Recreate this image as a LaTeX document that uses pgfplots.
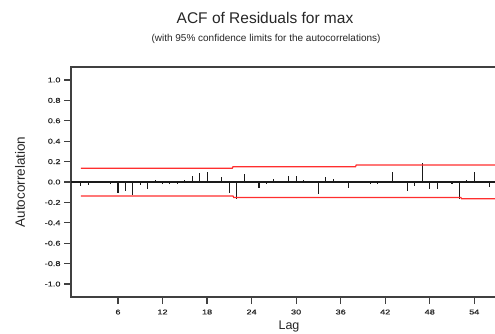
\documentclass[border=0pt]{standalone}
\usepackage{pgfplots}
\pgfplotsset{compat=1.18}
\usepackage{fontspec}
\setmainfont{Liberation Sans}
\newfontfamily\tickfont[FakeStretch=1.3,FakeBold=0.6]{Liberation Sans}
\definecolor{axisgray}{HTML}{404040}
\definecolor{barblack}{HTML}{1A1A1A}
\definecolor{limred}{HTML}{FF2E2E}

\pgfplotstableread{
lag acf
1 -0.035
2 -0.03
3 0.004
4 -0.004
5 -0.02
6 -0.105
7 -0.085
8 -0.13
9 -0.033
10 -0.072
11 0.02
12 -0.016
13 -0.016
14 -0.016
15 0.02
16 0.062
17 0.085
18 0.10
19 0.004
20 0.046
21 -0.105
22 -0.17
23 0.075
24 -0.004
25 -0.062
26 -0.023
27 0.033
28 0.004
29 0.062
30 0.062
31 0.02
32 -0.004
33 -0.114
34 0.046
35 0.033
36 0.004
37 -0.062
38 -0.004
39 0.004
40 -0.023
41 -0.023
42 0.004
43 0.10
44 -0.004
45 -0.085
46 -0.036
47 0.183
48 -0.072
49 -0.072
50 -0.004
51 -0.023
52 -0.17
53 0.02
54 0.10
55 0.004
56 -0.05
}\acfdata

\begin{document}
\begin{tikzpicture}[x=1pt,y=1pt]
\useasboundingbox (0,0) rectangle (495,333);
\begin{axis}[
  at={(71pt,36pt)}, anchor=south west,
  scale only axis, width=430pt, height=230pt,
  xmin=-0.33, xmax=57.6, ymin=-1.127, ymax=1.127,
  xtick={6,12,18,24,30,36,42,48,54},
  ytick={-1,-0.8,-0.6,-0.4,-0.2,0,0.2,0.4,0.6,0.8,1},
  tick pos=left, tick align=outside,
  major tick length=7pt,
  axis line style={axisgray, line width=1.4pt},
  tick style={axisgray, line width=1.2pt},
  tick label style={font=\tickfont\fontsize{7}{8}\selectfont, text=black!85},
  yticklabel style={/pgf/number format/.cd, fixed, fixed zerofill, precision=1, assume math mode=true},
  xticklabel style={/pgf/number format/assume math mode=true, yshift=-2pt},
  clip=false,
]
\addplot[barblack, line width=1.1pt] coordinates {(-0.33,0) (57.6,0)};
\addplot[ycomb, barblack, line width=1.1pt, mark=none] table[x=lag, y=acf] {\acfdata};
\addplot[limred, line width=1.2pt] coordinates {(1,0.135) (21.4,0.135) (21.5,0.15) (38,0.15) (38.1,0.167) (57.6,0.167)};
\addplot[limred, line width=1.2pt] coordinates {(1,-0.137) (21.5,-0.137) (21.6,-0.152) (52.2,-0.152) (52.3,-0.165) (57.6,-0.165)};
\end{axis}
\node[anchor=base, text=black!85, font=\fontsize{15.5}{18}\selectfont] at (265,309) {ACF of Residuals for max};
\node[anchor=base, text=black!85, font=\fontsize{10}{12}\selectfont] at (266,291) {(with 95\% confidence limits for the autocorrelations)};
\node[rotate=90, text=black!85, font=\fontsize{13.5}{16}\selectfont] at (20,151) {Autocorrelation};
\node[anchor=base, text=black!85, font=\fontsize{12.5}{15}\selectfont] at (289,3.2) {Lag};
\end{tikzpicture}
\end{document}
